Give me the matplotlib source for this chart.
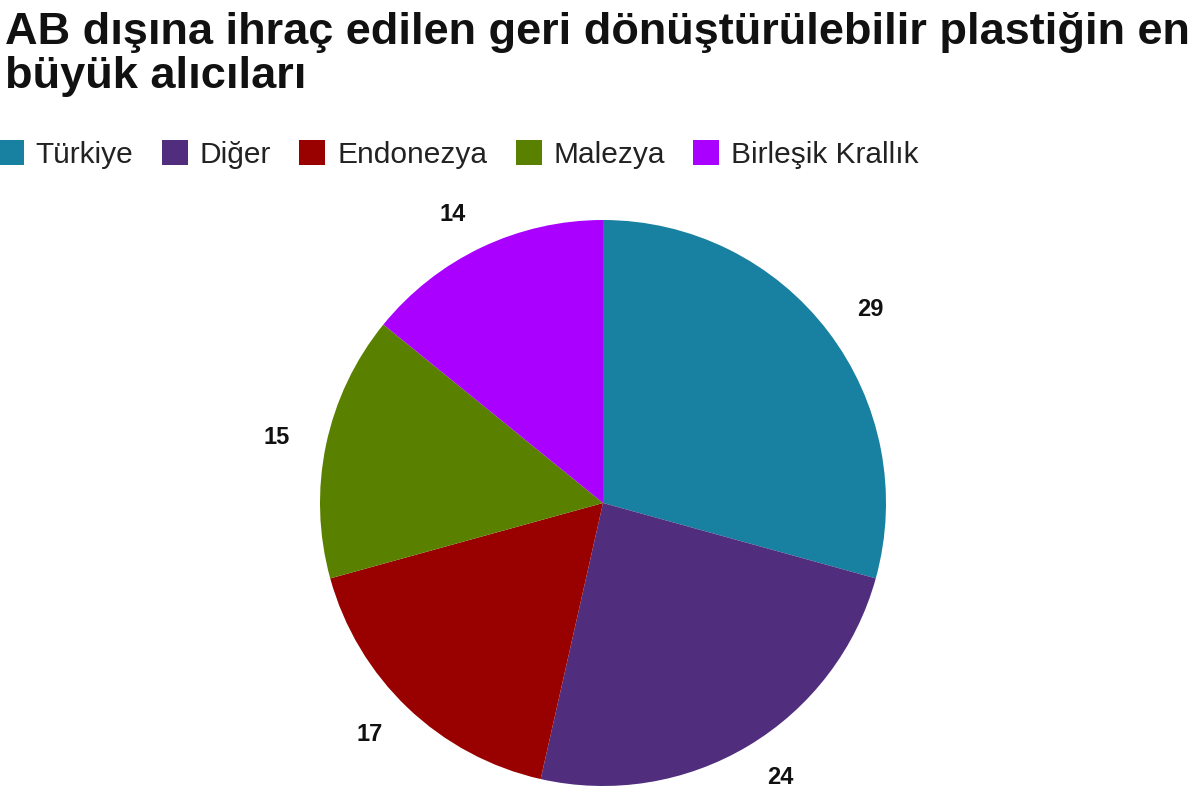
import matplotlib.pyplot as plt
from matplotlib.patches import Patch

plt.rcParams['font.family'] = ['Liberation Sans', 'DejaVu Sans']

title = "AB dışına ihraç edilen geri dönüştürülebilir plastiğin en\nbüyük alıcıları"
countries = ['Türkiye', 'Diğer', 'Endonezya', 'Malezya', 'Birleşik Krallık']
shares = [29, 24, 17, 15, 14]
colors = ['#1880a0', '#502d7d', '#990000', '#5a8000', '#aa00ff']

fig = plt.figure(figsize=(12, 8.07), dpi=100)

# pie centre at about (603, 503) px, radius ~283 px
r_px = 283
lim = 1.25
half = lim * r_px
cx, cy = 603, 807 - 503
ax = fig.add_axes([(cx - half) / 1200, (cy - half) / 807, 2 * half / 1200, 2 * half / 807])

wedges, texts = ax.pie(shares, colors=colors, labels=[str(v) for v in shares],
                       startangle=90, counterclock=False, labeldistance=1.13,
                       textprops=dict(fontsize=17, fontweight='bold', color='#111111'))
ax.set_xlim(-lim, lim)
ax.set_ylim(-lim, lim)
ax.set_aspect('equal')
ax.axis('off')

fig.text(0.004, 0.985, title, ha='left', va='top', fontsize=32.5, fontweight='bold',
         color='#111111', linespacing=1.1)

handles = [Patch(facecolor=c, edgecolor='none') for c in colors]
fig.legend(handles, countries, loc='upper left', bbox_to_anchor=(-0.002, 0.826),
           ncol=5, frameon=False, fontsize=21.5, handlelength=0.87, handleheight=0.9,
           handletextpad=0.4, columnspacing=0.95, borderpad=0, borderaxespad=0,
           labelcolor='#222222')

fig.savefig('out.png', dpi=100)
